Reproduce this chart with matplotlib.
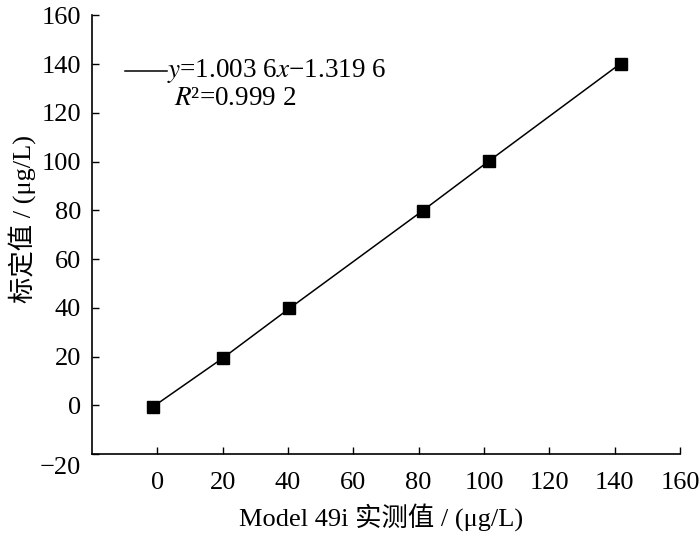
import matplotlib
matplotlib.use("Agg")
import matplotlib.pyplot as plt
import matplotlib.transforms as mtransforms

plt.rcParams['font.family'] = ['Liberation Serif', 'Noto Sans CJK SC', 'DejaVu Sans']
plt.rcParams['mathtext.fontset'] = 'stix'
plt.rcParams['axes.unicode_minus'] = True

# Data
measured = [-1.3, 20.2, 40.4, 81.2, 101.4, 141.8]   # Model 49i measured (x)
standard = [-0.6, 19.5, 39.7, 79.8, 100.1, 140.2]   # calibrated value (y)
xticks = [0, 20, 40, 60, 80, 100, 120, 140, 160]
yticks = [-20, 0, 20, 40, 60, 80, 100, 120, 140, 160]
eq_text = r'$y$=1.003 6$x$−1.319 6'
r2_text = r'$R$²=0.999 2'
xlabel = 'Model 49i 实测值 / (μg/L)'
ylabel = '标定值 / (μg/L)'

fig = plt.figure(figsize=(7.0, 5.37), dpi=100)
ax = fig.add_axes([92/700, 83/537, 588/700, 438.7/537])

ax.plot(measured, standard, color='black', lw=1.1, marker='s', ms=8,
        mfc='black', mec='black')

ax.set_xlim(-20, 160)
ax.set_ylim(-20, 160)
ax.set_xticks(xticks)
ax.set_yticks(yticks)
ax.set_xticklabels([str(v) for v in xticks])
ax.set_yticklabels([str(v).replace('-', '−') for v in yticks])

for s in ['top', 'right']:
    ax.spines[s].set_visible(False)
for s in ['left', 'bottom']:
    ax.spines[s].set_linewidth(1.2)

ax.tick_params(axis='both', direction='in', length=5, width=1.0,
               labelsize=19, color='black')
ax.tick_params(axis='x', pad=13)
ax.tick_params(axis='y', pad=8)

# the -20 label sits slightly below the axis corner
lab = ax.get_yticklabels()[0]
lab.set_transform(lab.get_transform() +
                  mtransforms.ScaledTranslation(0, -12/100, fig.dpi_scale_trans))

ax.set_xlabel(xlabel, fontsize=19)
ax.set_ylabel(ylabel, fontsize=19)
ax.xaxis.set_label_coords(0.492, -0.112)
ax.yaxis.set_label_coords(-0.095, 0.536)

# legend-like annotation
ax.plot([0.056, 0.128], [0.873, 0.873], transform=ax.transAxes,
        color='black', lw=1.1)
ax.text(0.128, 0.873, eq_text, transform=ax.transAxes, fontsize=19.5,
        va='center', ha='left')
ax.text(0.14, 0.811, r2_text, transform=ax.transAxes, fontsize=19.5,
        va='center', ha='left')

fig.savefig('out.png', dpi=100)
